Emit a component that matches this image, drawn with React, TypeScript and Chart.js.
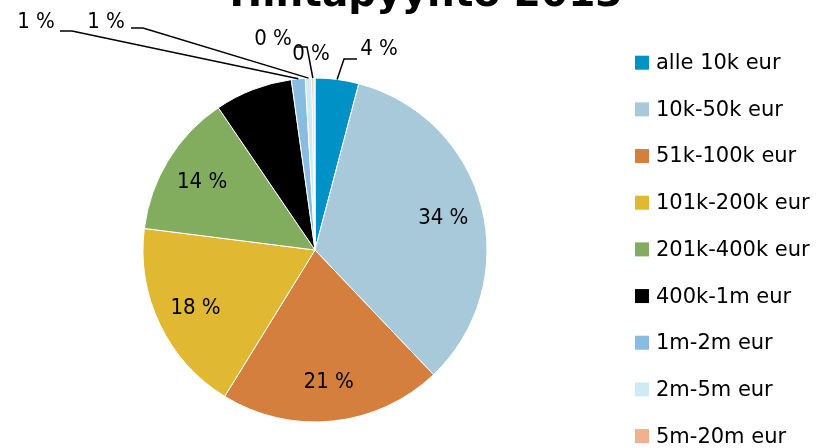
import React, { useEffect, useRef } from "react";
import { Chart, registerables } from "chart.js";

Chart.register(...registerables);

const TITLE = "Hintapyyntö 2013";
const categories = [
  "alle 10k eur",
  "10k-50k eur",
  "51k-100k eur",
  "101k-200k eur",
  "201k-400k eur",
  "400k-1m eur",
  "1m-2m eur",
  "2m-5m eur",
  "5m-20m eur",
  "yli 20m eur",
];
const shares = [4.1, 33.8, 20.9, 18.2, 13.5, 7.3, 1.3, 0.6, 0.2, 0.1];
const percentLabels = ["4 %", "34 %", "21 %", "18 %", "14 %", "7 %", "1 %", "1 %", "0 %", "0 %"];
const colors = [
  "#0092C6",
  "#A7C9DA",
  "#D57F3F",
  "#E0B832",
  "#82AC5E",
  "#000000",
  "#88BDE1",
  "#CDEAF5",
  "#F2B08F",
  "#D9D9D9",
];

const FONT = "'DejaVu Sans', sans-serif";
const LABEL_FONT = "'DejaVu Sans Condensed', 'DejaVu Sans', sans-serif";

// outer label layout: label centre and leader elbow points (towards the slice)
const outerLabels: Record<number, { cx: number; cy: number; path: [number, number][] }> = {
  0: { cx: 379, cy: 48, path: [[357, 59], [344, 59]] },
  6: { cx: 36, cy: 21, path: [[60, 31], [72, 31]] },
  7: { cx: 106, cy: 21, path: [[131, 28], [143, 28]] },
  8: { cx: 273, cy: 38, path: [[295, 47], [307, 47]] },
  9: { cx: 311, cy: 53, path: [] },
};

const labelPlugin = {
  id: "customLabels",
  afterDatasetsDraw(chart: any) {
    const ctx = chart.ctx;
    const meta = chart.getDatasetMeta(0);
    ctx.save();
    ctx.font = `22px ${LABEL_FONT}`;
    ctx.textAlign = "center";
    ctx.textBaseline = "middle";
    meta.data.forEach((arc: any, i: number) => {
      const { x, y, startAngle, endAngle, outerRadius } = arc.getProps(
        ["x", "y", "startAngle", "endAngle", "outerRadius"],
        true
      );
      const mid = (startAngle + endAngle) / 2;
      const ol = outerLabels[i];
      if (ol) {
        if (ol.path.length) {
          ctx.strokeStyle = "#000";
          ctx.lineWidth = 1.5;
          ctx.beginPath();
          ctx.moveTo(ol.path[0][0], ol.path[0][1]);
          for (let k = 1; k < ol.path.length; k++) ctx.lineTo(ol.path[k][0], ol.path[k][1]);
          ctx.lineTo(x + Math.cos(mid) * outerRadius, y + Math.sin(mid) * outerRadius);
          ctx.stroke();
        }
        ctx.fillStyle = "#000";
        ctx.fillText(percentLabels[i], ol.cx, ol.cy + 1);
      } else {
        const r = outerRadius * 0.77;
        ctx.fillStyle = "#000";
        ctx.fillText(percentLabels[i], x + Math.cos(mid) * r, y + Math.sin(mid) * r + 1);
      }
    });
    ctx.restore();
  },
  afterDraw(chart: any) {
    const ctx = chart.ctx;
    ctx.save();
    // title (partly above the canvas)
    ctx.font = `bold 39px ${FONT}`;
    ctx.fillStyle = "#000";
    ctx.textAlign = "center";
    ctx.textBaseline = "alphabetic";
    ctx.fillText(TITLE, 426, 6);
    // legend
    ctx.font = `21px ${FONT}`;
    ctx.textAlign = "left";
    ctx.textBaseline = "middle";
    categories.forEach((c, i) => {
      const cy = 62.7 + i * 46.67;
      ctx.fillStyle = colors[i];
      ctx.fillRect(635, cy - 7, 14, 14);
      ctx.fillStyle = "#000";
      ctx.fillText(c, 656, cy + 1);
    });
    ctx.restore();
  },
};

export default function App() {
  const ref = useRef<HTMLCanvasElement>(null);
  useEffect(() => {
    document.body.style.margin = "0";
    const chart = new Chart(ref.current!, {
      type: "pie",
      data: {
        labels: categories,
        datasets: [
          {
            data: shares,
            backgroundColor: colors,
            borderColor: "#ffffff",
            borderWidth: 1,
          },
        ],
      },
      options: {
        animation: false,
        responsive: false,
        devicePixelRatio: 1,
        layout: { padding: { top: 77.5, bottom: 25.5, left: 142.5, right: 350.5 } },
        plugins: {
          legend: { display: false },
          title: { display: false },
          tooltip: { enabled: false },
        },
      },
      plugins: [labelPlugin],
    });
    return () => chart.destroy();
  }, []);
  return (
    <div style={{ width: 838, height: 448, background: "#fff" }}>
      <canvas ref={ref} width={838} height={448} />
    </div>
  );
}
